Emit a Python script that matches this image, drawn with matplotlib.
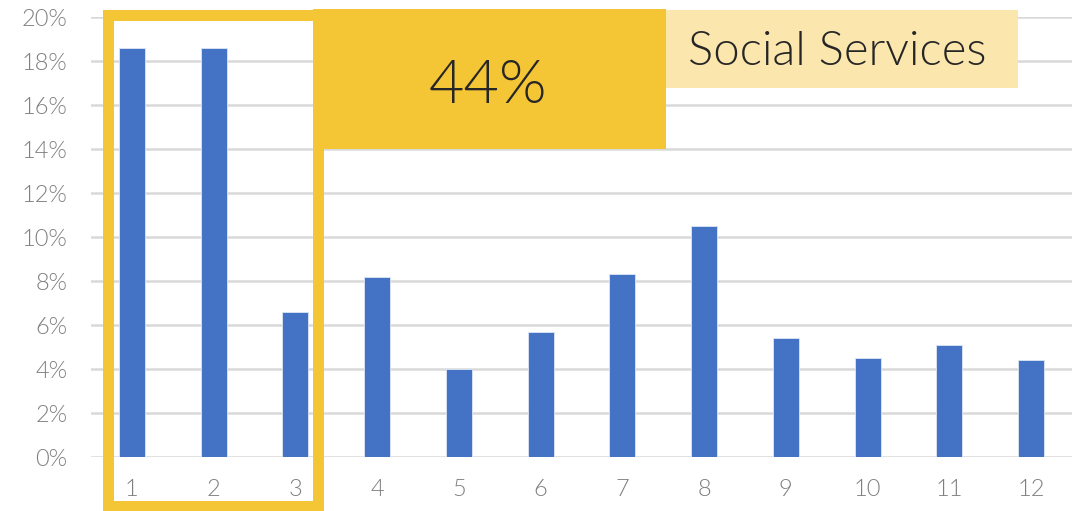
import matplotlib
matplotlib.use("Agg")
import matplotlib.pyplot as plt
from matplotlib import font_manager as fm
from matplotlib.patches import Rectangle
from matplotlib.ticker import PercentFormatter

categories = ["1", "2", "3", "4", "5", "6", "7", "8", "9", "10", "11", "12"]
values = [18.6, 18.6, 6.6, 8.2, 4.0, 5.7, 8.3, 10.5, 5.4, 4.5, 5.1, 4.4]
highlight_label = "44%"
highlight_title = "Social Services"

BLUE = "#4472C4"
YELLOW = "#F4C534"
LIGHT_YELLOW = "#FBE7AE"
GRID = "#D9D9D9"
TICK = "#7F7F7F"

plt.rcParams['font.family'] = ['Lato', 'DejaVu Sans']

light_path = None
for f in fm.fontManager.ttflist:
    if f.fname.endswith('Lato-Light.ttf'):
        light_path = f.fname
        break

def fp(size):
    if light_path:
        return fm.FontProperties(fname=light_path, size=size)
    return fm.FontProperties(family='Lato', weight=300, size=size)

fig = plt.figure(figsize=(10.84, 5.11), dpi=100)
ax = fig.add_axes([91/1084, 1-457/511, (1072-91)/1084, (457-17)/511])

x = list(range(1, len(categories) + 1))
ax.bar(x, values, width=0.32, color=BLUE, edgecolor="#DDE6F5", linewidth=0.6, zorder=3)

ax.set_xlim(0.5, 12.5)
ax.set_ylim(0, 20)
ax.set_yticks(range(0, 21, 2))
ax.yaxis.set_major_formatter(PercentFormatter(decimals=0))
ax.set_xticks(x)
ax.set_xticklabels(categories)
ax.grid(axis='y', color=GRID, linewidth=1.8, zorder=0)
ax.set_axisbelow(True)
for s in ax.spines.values():
    s.set_visible(False)
ax.tick_params(axis='both', length=0, labelcolor=TICK)
ax.tick_params(axis='y', pad=17)
ax.tick_params(axis='x', pad=16)
for lbl in ax.get_xticklabels() + ax.get_yticklabels():
    lbl.set_fontproperties(fp(17))

# highlight outline around categories 1-3
ax.add_patch(Rectangle((0.714, -2.23), 3.277 - 0.714, 20.11 + 2.23,
                       fill=False, edgecolor=YELLOW, linewidth=7.9,
                       clip_on=False, zorder=5, joinstyle='miter'))
# filled total box
ax.add_patch(Rectangle((3.216, 14.0), 7.534 - 3.216, 20.36 - 14.0,
                       facecolor=YELLOW, edgecolor='none', clip_on=False, zorder=6))
# light title box
ax.add_patch(Rectangle((7.534, 16.77), 11.84 - 7.534, 20.32 - 16.77,
                       facecolor=LIGHT_YELLOW, edgecolor='none', clip_on=False, zorder=6))

ax.text(5.356, 16.82, highlight_label, ha='center', va='center',
        fontproperties=fp(44), color='#262626', zorder=7)
ax.text(7.80, 18.4, highlight_title, ha='left', va='center',
        fontproperties=fp(34), color='#262626', zorder=7)

fig.savefig("out.png", dpi=100)
